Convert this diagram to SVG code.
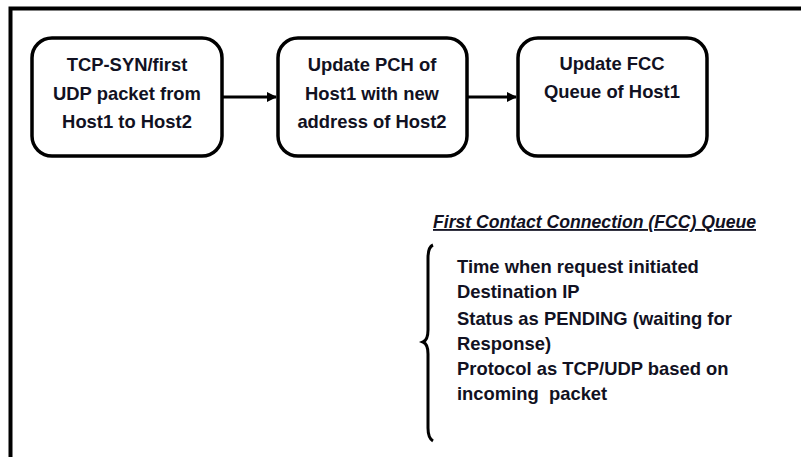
<svg xmlns="http://www.w3.org/2000/svg" width="801" height="457" viewBox="0 0 801 457">
<style>
.box{fill:#fff;stroke:#000;stroke-width:3.5}
.t{font-family:"Liberation Sans",Arial,sans-serif;font-weight:bold;font-size:18.4px;fill:#111122}
.c{text-anchor:middle}
.conn{stroke:#000;stroke-width:3;fill:none}
</style>
<defs>
<marker id="ah" markerWidth="10" markerHeight="10" refX="9" refY="5" orient="auto" markerUnits="userSpaceOnUse">
<path d="M0,0 L10,5 L0,10 Z" fill="#000"/>
</marker>
</defs>
<rect width="801" height="457" fill="#fff"/>
<path d="M10.5,457 V8.5 H801" fill="none" stroke="#000" stroke-width="4"/>
<g id="n1">
<rect class="box" x="32" y="38" width="190" height="118" rx="20"/>
<text class="t c" x="127" y="71">TCP-SYN/first</text>
<text class="t c" x="127" y="100">UDP packet from</text>
<text class="t c" x="127" y="128">Host1 to Host2</text>
</g>
<g id="n2">
<rect class="box" x="278" y="38" width="189" height="118" rx="20"/>
<text class="t c" x="372" y="71">Update PCH of</text>
<text class="t c" x="372" y="100">Host1 with new</text>
<text class="t c" x="372" y="128">address of Host2</text>
</g>
<g id="n3">
<rect class="box" x="518" y="38" width="189" height="118" rx="20"/>
<text class="t c" x="612" y="70">Update FCC</text>
<text class="t c" x="612" y="98">Queue of Host1</text>
</g>
<g id="connectors">
<line class="conn" x1="223" y1="97" x2="276" y2="97" marker-end="url(#ah)"/>
<line class="conn" x1="468" y1="97" x2="516" y2="97" marker-end="url(#ah)"/>
</g>
<g id="fcc">
<text class="t" x="433" y="228" font-style="italic" text-decoration="underline" textLength="323" lengthAdjust="spacingAndGlyphs">First Contact Connection (FCC) Queue</text>
<path d="M433,245 Q428,247 428,258 L428,330 Q428,340 423,342 Q428,344 428,354 L428,428 Q428,438 433,441" fill="none" stroke="#000" stroke-width="3"/>
<text class="t" x="457" y="273">Time when request initiated</text>
<text class="t" x="457" y="298">Destination IP</text>
<text class="t" x="457" y="325">Status as PENDING (waiting for</text>
<text class="t" x="457" y="350">Response)</text>
<text class="t" x="457" y="375">Protocol as TCP/UDP based on</text>
<text class="t" x="457" y="400" xml:space="preserve">incoming  packet</text>
</g>
</svg>
